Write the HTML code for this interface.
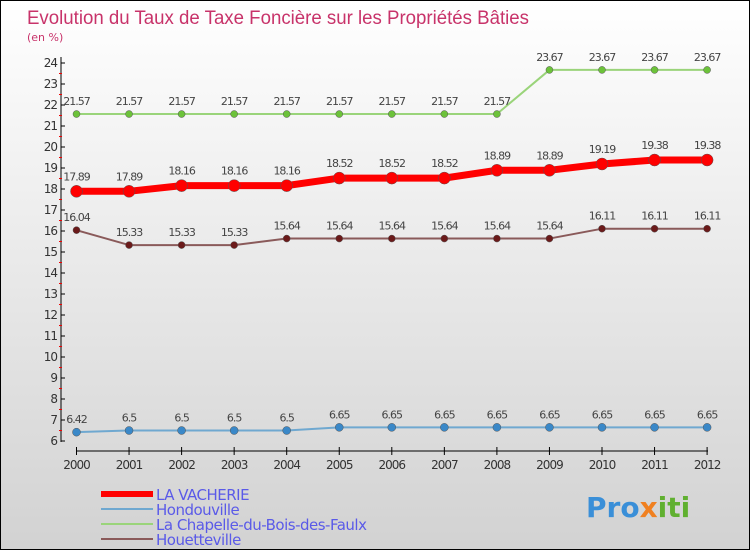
<!DOCTYPE html>
<html><head><meta charset="utf-8"><style>
body{margin:0}
#c{width:750px;height:550px;position:relative;overflow:hidden;box-sizing:border-box;border:1px solid #000;background:linear-gradient(#ffffff,#d2d2d2);font-family:"DejaVu Sans","Liberation Sans",sans-serif}
</style></head><body>
<div id="c">
<svg id="s" width="750" height="550" style="position:absolute;left:0;top:0">
<text x="26" y="23" font-size="19" fill="#c8336a" font-family="Liberation Sans, sans-serif" textLength="502" lengthAdjust="spacingAndGlyphs">Evolution du Taux de Taxe Foncière sur les Propriétés Bâties</text>
<text x="26" y="40" font-size="11" fill="#c8336a">(en %)</text>
<text x="585" y="516" font-size="28" font-weight="bold" fill="#3a8fd8">Pro<tspan fill="#f08020">x</tspan><tspan fill="#60b030">iti</tspan></text>
</svg>
</div>
<script>
const years=["2000","2001","2002","2003","2004","2005","2006","2007","2008","2009","2010","2011","2012"];
const vacherie=[17.89,17.89,18.16,18.16,18.16,18.52,18.52,18.52,18.89,18.89,19.19,19.38,19.38];
const hondouville=[6.42,6.5,6.5,6.5,6.5,6.65,6.65,6.65,6.65,6.65,6.65,6.65,6.65];
const chapelle=[21.57,21.57,21.57,21.57,21.57,21.57,21.57,21.57,21.57,23.67,23.67,23.67,23.67];
const houetteville=[16.04,15.33,15.33,15.33,15.64,15.64,15.64,15.64,15.64,15.64,16.11,16.11,16.11];
const yTicks=[6,7,8,9,10,11,12,13,14,15,16,17,18,19,20,21,22,23,24];
const svg=document.getElementById('s');const NS='http://www.w3.org/2000/svg';
function X(i){return 75.5+i*52.55}
function Y(v){return 440-(v-6)*21}
function mk(t,a){const e=document.createElementNS(NS,t);for(const k in a)e.setAttribute(k,a[k]);svg.appendChild(e);return e}
let ax=mk('line',{x1:60,y1:56,x2:60,y2:441,stroke:'#000'});


let xa=mk('line',{x1:75,y1:450,x2:707,y2:450,stroke:'#000'});


yTicks.forEach(v=>{
  mk('line',{x1:60,y1:Y(v),x2:64,y2:Y(v),stroke:'#000'});
  if(v<24)mk('line',{x1:58,y1:Y(v+0.5),x2:61,y2:Y(v+0.5),stroke:'#e00'});
  const t=mk('text',{x:56,y:Y(v)+4,'font-size':12,fill:'#333','text-anchor':'end','letter-spacing':'-1'});t.textContent=v;
  
  
});
years.forEach((y,i)=>{
  mk('line',{x1:X(i),y1:446,x2:X(i),y2:454,stroke:'#000'});
  const t=mk('text',{x:X(i),y:468,'font-size':12,fill:'#333','text-anchor':'middle','letter-spacing':'-1'});t.textContent=y;
  
  
});
const series=[
 {d:chapelle,c:'#9ad47a',p:'#6cc23a',w:2,r:3.5,n:'la-chapelle'},
 {d:houetteville,c:'#8a5a5a',p:'#6b1a1a',w:2,r:3.5,n:'houetteville'},
 {d:hondouville,c:'#6fa8d0',p:'#3a88c8',w:2,r:4,n:'hondouville'},
 {d:vacherie,c:'#f00',p:'#f00',w:7,r:6,n:'la-vacherie'}];
series.forEach(s=>{
  const pl=mk('polyline',{points:s.d.map((v,i)=>X(i)+','+Y(v)).join(' '),fill:'none',stroke:s.c,'stroke-width':s.w});
  
  
  s.d.forEach((v,i)=>{
    const c=mk('circle',{cx:X(i),cy:Y(v),r:s.r,fill:s.p,stroke:'#555','stroke-width':0.5});
    
    
    const t=mk('text',{x:X(i),y:Y(v)-(s.w>4?11:9),'font-size':11,fill:'#444','text-anchor':'middle','letter-spacing':'-1'});t.textContent=v;
    
    
  });
});
const leg=[['LA VACHERIE','#f00',6],['Hondouville','#6fa8d0',2],['La Chapelle-du-Bois-des-Faulx','#9ad47a',2],['Houetteville','#8a5a5a',2]];
leg.forEach((l,i)=>{
  const y=493+i*15;
  const ln=mk('line',{x1:100,y1:y,x2:152,y2:y,stroke:l[1],'stroke-width':l[2]});
  
  
  const t=mk('text',{x:155,y:y+6,'font-size':15,fill:'#5a5ae8','letter-spacing':'-0.5'});t.textContent=l[0];
  
  
});
</script>
</body></html>
